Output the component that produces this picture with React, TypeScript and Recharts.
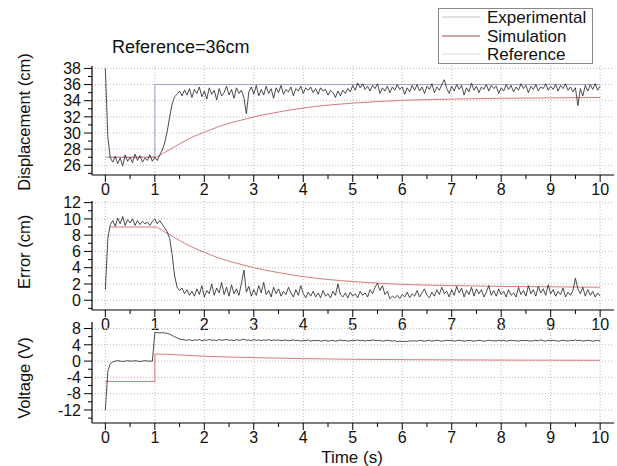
import React from 'react';
import { LineChart, Line, XAxis, YAxis, ReferenceLine } from 'recharts';

const FONT = "'Liberation Sans', Arial, Helvetica, sans-serif";
const STEP = 0.05;

// Experimental samples every 0.05 s from 0 to 10 s
const dispExp = [
  38.0, 29.5, 26.9, 26.4, 27.1, 26.2, 26.9, 25.9, 27.3, 26.5,
  27.0, 26.3, 27.4, 26.6, 27.2, 26.4, 26.9, 26.6, 27.3, 26.5,
  27.0, 26.6, 27.3, 27.9, 28.8, 30.2, 32.0, 33.6, 34.5, 34.8,
  35.2, 34.6, 35.3, 34.7, 35.5, 34.4, 35.4, 34.9, 35.7, 34.5,
  35.2, 34.2, 35.6, 34.8, 35.3, 34.1, 35.5, 34.6, 35.0, 35.8,
  34.7, 35.4, 34.3, 35.6, 34.9, 35.3, 34.4, 32.4, 35.1, 35.7,
  34.8, 35.9, 34.6, 35.4, 34.7, 35.8, 34.9, 35.5, 34.3, 35.6,
  35.0, 35.9, 34.8, 35.4, 35.1, 35.7, 34.6, 35.5, 35.2, 35.8,
  34.9, 35.6, 35.3, 35.7, 35.0, 35.5, 34.8, 35.6, 35.2, 35.4,
  34.7, 35.3, 35.0, 34.4, 35.2, 34.6, 35.3, 34.9, 35.5, 35.1,
  35.9, 35.3, 36.2, 35.6, 36.1, 35.4, 35.8, 35.2, 35.9, 35.5,
  36.1, 34.9, 35.6, 35.2, 35.8, 35.0, 35.7, 35.3, 36.0, 35.4,
  35.7, 34.8, 35.6, 35.1, 35.9, 35.3, 36.0, 35.2, 35.7, 34.9,
  35.8, 35.4, 36.1, 35.0, 35.7, 35.3, 36.0, 36.6, 35.5, 34.9,
  35.8, 35.2, 36.0, 35.4, 35.9, 34.7, 35.6, 35.1, 36.2, 35.3,
  35.8, 35.0, 35.7, 35.4, 36.0, 35.2, 35.9, 35.5, 35.8, 34.9,
  35.6, 35.2, 36.0, 35.4, 35.9, 35.1, 35.7, 35.3, 36.1, 35.5,
  35.9, 35.0, 35.8, 35.4, 36.0, 35.2, 35.7, 35.5, 36.1, 35.3,
  35.8, 35.4, 36.0, 35.2, 35.9, 35.5, 36.1, 35.3, 35.7, 35.1,
  35.6, 33.4, 35.5, 34.6, 35.9, 35.2, 36.0, 35.4, 36.1, 35.3,
  35.8,
];

const errExp = [
  1.3, 7.6, 9.3, 9.8, 9.1, 10.1, 9.4, 10.3, 9.2, 9.9,
  9.5, 10.0, 9.2, 9.8, 9.3, 9.7, 9.4, 9.6, 9.2, 9.7,
  10.0, 9.4, 9.8, 9.3, 8.9, 8.4, 7.6, 5.6, 3.0, 1.6,
  1.2, 1.5, 0.8, 1.3, 0.6, 1.1, 0.5, 1.4, 0.7, 1.8,
  0.4, 1.2, 0.8, 2.0, 0.6, 1.5, 0.9, 2.2, 0.7, 1.6,
  0.5, 1.9, 0.8, 1.4, 0.6, 2.1, 3.7, 1.0, 1.7, 0.5,
  1.3, 0.6, 1.8, 0.9, 2.2, 0.7, 1.2, 0.4, 1.6, 0.8,
  1.4, 0.5, 1.1, 0.7, 1.6, 0.9, 0.4, 1.3, 0.6, 1.8,
  0.8, 0.3, 1.0, 0.5, 1.1, 0.4, 0.9, 0.3, 1.2, 0.5,
  0.8, 0.3, 1.1, 0.6, 2.0, 0.7, 0.4, 0.9, 0.3, 1.0,
  0.5, 0.8, 0.3, 1.1, 0.6, 0.9, 0.4, 1.3, 0.8, 1.6,
  2.1, 1.2, 1.8, 0.7, 1.1, 0.2, 0.5, 0.3, 0.6, 0.2,
  0.7, 0.4, 1.0, 0.3, 0.8, 0.5, 1.2, 0.4, 0.9, 1.4,
  0.6, 0.3, 1.0, 0.5, 1.3, 0.7, 1.6, 0.8, 1.1, 0.4,
  1.3, 0.6, 1.7, 0.9, 1.5, 0.4, 1.2, 0.7, 1.6, 0.5,
  1.4, 0.8, 1.3, 0.4, 1.0, 1.8, 0.6, 1.2, 0.5, 1.4,
  0.7, 1.1, 0.4, 1.3, 0.6, 0.9, 0.4, 1.6, 0.7, 1.2,
  0.5, 1.8, 0.8, 1.3, 0.5, 1.7, 0.9, 1.4, 0.6, 1.9,
  0.8, 1.3, 0.5, 1.1, 0.7, 1.5, 0.4, 1.0, 0.6, 1.2,
  2.7, 1.4, 0.8, 1.6, 0.5, 1.3, 0.6, 1.1, 0.4, 0.9,
  0.5,
];

const voltExp = [
  -12.0, -2.5, -0.6, -0.2, 0.0, 0.1, 0.0, -0.1, 0.0, 0.1,
  0.0, 0.0, 0.1, 0.0, -0.1, 0.0, 0.1, 0.0, 0.0, 0.0,
  7.0, 7.0, 6.9, 7.0, 6.9, 6.8, 6.6, 6.3, 6.0, 5.7,
  5.4, 5.3, 5.2, 5.1, 5.3, 5.0, 5.2, 5.1, 5.3, 5.0,
  5.2, 5.1, 5.3, 5.1, 5.2, 5.0, 5.3, 5.1, 5.2, 5.3,
  5.1, 5.2, 5.0, 5.3, 5.1, 5.2, 5.4, 5.1, 5.2, 5.0,
  5.3, 5.1, 5.2, 5.0, 5.2, 5.1, 5.3, 5.0, 5.2, 5.1,
  5.2, 5.0, 5.1, 5.2, 5.0, 5.1, 5.2, 5.0, 5.1, 4.9,
  5.1, 5.0, 5.2, 4.9, 5.1, 5.0, 5.1, 4.9, 5.0, 5.1,
  4.9, 5.0, 5.1, 4.9, 5.0, 5.2, 5.0, 5.1, 4.9, 5.0,
  5.1, 5.0, 5.2, 5.0, 5.1, 4.9, 5.1, 5.0, 5.2, 5.1,
  5.0, 5.1, 4.9, 5.0, 5.1, 5.0, 4.9, 5.0, 4.8, 4.9,
  4.8, 4.9, 4.8, 5.0, 4.9, 5.0, 4.9, 5.1, 5.0, 4.9,
  5.0, 5.1, 4.9, 5.0, 5.1, 5.0, 4.9, 5.0, 5.1, 5.0,
  5.1, 4.9, 5.0, 5.1, 5.0, 4.9, 5.0, 5.1, 5.0, 4.9,
  5.0, 5.1, 5.0, 4.9, 5.0, 5.1, 5.0, 5.0, 4.9, 5.1,
  5.0, 5.1, 4.9, 5.0, 5.1, 5.0, 5.0, 4.9, 5.1, 5.0,
  5.1, 5.0, 4.9, 5.0, 5.1, 5.0, 5.2, 5.0, 4.9, 5.1,
  5.0, 5.1, 5.0, 4.9, 5.0, 5.1, 5.0, 4.9, 5.1, 5.0,
  5.2, 5.0, 5.1, 4.9, 5.0, 5.1, 5.0, 4.9, 5.0, 5.1,
  4.9,
];

// Simulation (sparse points)
const dispSimT = [0.1, 1, 1.2, 1.4, 1.6, 1.8, 2, 2.25, 2.5, 2.75, 3, 3.5, 4, 4.5, 5, 5.5, 6, 7, 8, 9, 10];
const dispSimV = [27, 27, 27.6, 28.3, 29.0, 29.6, 30.1, 30.7, 31.2, 31.6, 32.0, 32.6, 33.1, 33.45, 33.7, 33.9, 34.05, 34.2, 34.3, 34.35, 34.4];

const errSimT = [0.1, 1, 1.2, 1.4, 1.6, 1.8, 2, 2.25, 2.5, 2.75, 3, 3.5, 4, 4.5, 5, 5.5, 6, 7, 8, 9, 10];
const errSimV = [9.0, 9.0, 8.4, 7.7, 7.0, 6.4, 5.9, 5.3, 4.8, 4.4, 4.0, 3.4, 2.9, 2.55, 2.3, 2.1, 1.95, 1.8, 1.7, 1.65, 1.6];

const voltSimT = [0, 1, 1, 1.2, 1.5, 2, 2.5, 3, 4, 5, 6, 7, 8, 9, 10];
const voltSimV = [-5, -5, 1.7, 1.7, 1.5, 1.2, 1.0, 0.85, 0.6, 0.45, 0.35, 0.3, 0.25, 0.22, 0.2];

// Reference
const refT = [0, 1, 1, 10];
const refV = [27, 27, 36, 36];

// Ticks
const xTicks = [0, 0.5, 1, 1.5, 2, 2.5, 3, 3.5, 4, 4.5, 5, 5.5, 6, 6.5, 7, 7.5, 8, 8.5, 9, 9.5, 10];
const xMajor = [0, 1, 2, 3, 4, 5, 6, 7, 8, 9, 10];
const dispTicks = [25, 26, 27, 28, 29, 30, 31, 32, 33, 34, 35, 36, 37, 38];
const dispMajor = [26, 28, 30, 32, 34, 36, 38];
const errTicks = [-1, 0, 1, 2, 3, 4, 5, 6, 7, 8, 9, 10, 11, 12];
const errMajor = [0, 2, 4, 6, 8, 10, 12];
const voltTicks = [-14, -12, -10, -8, -6, -4, -2, 0, 2, 4, 6, 8];
const voltMajor = [-12, -8, -4, 0, 4, 8];

const expRows = dispExp.map((d, i) => ({
  t: Math.round(i * STEP * 100) / 100,
  disp: d,
  err: errExp[i],
  volt: voltExp[i],
}));
const pairs = (ts: number[], vs: number[]) => ts.map((t, i) => ({ t, v: vs[i] }));
const dispSimRows = pairs(dispSimT, dispSimV);
const errSimRows = pairs(errSimT, errSimV);
const voltSimRows = pairs(voltSimT, voltSimV);
const refRows = pairs(refT, refV);

const X_DOMAIN: [number, number] = [-0.27, 10.28];
const GRID = '#bdbdbd';
const EXP_COLOR = '#1e1e1e';
const SIM_COLOR = '#d77a7a';
const REF_COLOR = '#98a2c8';

const makeYTick = (majors: number[]) => (props: any) => {
  const { x, y, payload } = props;
  const v = payload.value;
  const major = majors.includes(v);
  return (
    <g>
      <line x1={x} y1={y} x2={x - (major ? 8 : 4)} y2={y} stroke="#000" strokeWidth={1} />
      {major && (
        <text x={x - 11} y={y} dy="0.36em" textAnchor="end" fontSize={16} fontFamily={FONT} fill="#111">
          {v}
        </text>
      )}
    </g>
  );
};

const XTick = (props: any) => {
  const { x, y, payload } = props;
  const v = payload.value;
  const major = xMajor.includes(v);
  return (
    <g>
      <line x1={x} y1={y} x2={x} y2={y + (major ? 7 : 4)} stroke="#000" strokeWidth={1} />
      {major && (
        <text x={x} y={y + 8} dy="0.75em" textAnchor="middle" fontSize={16} fontFamily={FONT} fill="#111">
          {v}
        </text>
      )}
    </g>
  );
};

type PanelProps = {
  top: number;
  height: number;
  marginTop: number;
  domain: [number, number];
  ticks: number[];
  majors: number[];
  children: React.ReactNode;
};

function Panel({ top, height, marginTop, domain, ticks, majors, children }: PanelProps) {
  return (
    <div style={{ position: 'absolute', left: 0, top, width: 617, height }}>
      <LineChart width={617} height={height} margin={{ top: marginTop, right: 3, left: 0, bottom: 0 }}>
        <XAxis
          type="number"
          dataKey="t"
          domain={X_DOMAIN}
          ticks={xTicks}
          interval={0}
          tickSize={0}
          tickMargin={0}
          tickLine={false}
          tick={<XTick />}
          axisLine={{ stroke: '#000', strokeWidth: 1.2 }}
          height={25}
          allowDataOverflow
        />
        <YAxis
          type="number"
          domain={domain}
          ticks={ticks}
          interval={0}
          tickSize={0}
          tickMargin={0}
          tickLine={false}
          tick={makeYTick(majors)}
          axisLine={{ stroke: '#000', strokeWidth: 1.2 }}
          width={92}
          allowDataOverflow
        />
        {xMajor.map((v) => (
          <ReferenceLine key={'gx' + v} x={v} stroke={GRID} strokeDasharray="1 2" strokeWidth={1} />
        ))}
        {majors.map((v) => (
          <ReferenceLine key={'gy' + v} y={v} stroke={GRID} strokeDasharray="1 2" strokeWidth={1} />
        ))}
        {children}
      </LineChart>
    </div>
  );
}

export default function App() {
  return (
    <div
      style={{
        position: 'absolute',
        left: 0,
        top: 0,
        width: 617,
        height: 466,
        background: '#fff',
        overflow: 'hidden',
        fontFamily: FONT,
      }}
    >
      <Panel top={0} height={200} marginTop={66} domain={[24.8, 38.3]} ticks={dispTicks} majors={dispMajor}>
        <Line data={refRows} dataKey="v" type="linear" stroke={REF_COLOR} strokeWidth={1} dot={false} isAnimationActive={false} />
        <Line data={dispSimRows} dataKey="v" type="monotone" stroke={SIM_COLOR} strokeWidth={1} dot={false} isAnimationActive={false} />
        <Line data={expRows} dataKey="disp" type="linear" stroke={EXP_COLOR} strokeWidth={0.8} dot={false} isAnimationActive={false} />
      </Panel>
      <Panel top={180} height={155} marginTop={21} domain={[-1.2, 12.2]} ticks={errTicks} majors={errMajor}>
        <Line data={errSimRows} dataKey="v" type="monotone" stroke={SIM_COLOR} strokeWidth={1} dot={false} isAnimationActive={false} />
        <Line data={expRows} dataKey="err" type="linear" stroke={EXP_COLOR} strokeWidth={0.8} dot={false} isAnimationActive={false} />
      </Panel>
      <Panel top={300} height={148} marginTop={22} domain={[-15.2, 9.6]} ticks={voltTicks} majors={voltMajor}>
        <Line data={voltSimRows} dataKey="v" type="linear" stroke={SIM_COLOR} strokeWidth={1} dot={false} isAnimationActive={false} />
        <Line data={expRows} dataKey="volt" type="linear" stroke={EXP_COLOR} strokeWidth={0.8} dot={false} isAnimationActive={false} />
      </Panel>

      <svg
        width={617}
        height={466}
        style={{ position: 'absolute', left: 0, top: 0, pointerEvents: 'none' }}
      >
        <text x={112} y={47} dy="0.35em" fontSize={18} fontFamily={FONT} fill="#111">
          Reference=36cm
        </text>

        <rect x={438.5} y={8.5} width={154} height={55} fill="#fff" stroke="#888" strokeWidth={1} />
        <line x1={442} y1={17} x2={480} y2={17} stroke="#c4c4c4" strokeWidth={1} />
        <line x1={442} y1={36} x2={480} y2={36} stroke="#a04848" strokeWidth={1} />
        <line x1={442} y1={54} x2={480} y2={54} stroke="#dcdcdc" strokeWidth={1} />
        <text x={487} y={17} dy="0.35em" fontSize={17} fontFamily={FONT} fill="#111">Experimental</text>
        <text x={487} y={36} dy="0.35em" fontSize={17} fontFamily={FONT} fill="#111">Simulation</text>
        <text x={487} y={54} dy="0.35em" fontSize={17} fontFamily={FONT} fill="#111">Reference</text>

        <text x={24} y={122} dy="0.35em" fontSize={16.5} fontFamily={FONT} fill="#111" textAnchor="middle" transform="rotate(-90 24 122)">
          Displacement (cm)
        </text>
        <text x={24} y={252} dy="0.35em" fontSize={16.5} fontFamily={FONT} fill="#111" textAnchor="middle" transform="rotate(-90 24 252)">
          Error (cm)
        </text>
        <text x={24} y={378} dy="0.35em" fontSize={16.5} fontFamily={FONT} fill="#111" textAnchor="middle" transform="rotate(-90 24 378)">
          Voltage (V)
        </text>
        <text x={352} y={457} dy="0.35em" fontSize={17} fontFamily={FONT} fill="#111" textAnchor="middle">
          Time (s)
        </text>
      </svg>
    </div>
  );
}
